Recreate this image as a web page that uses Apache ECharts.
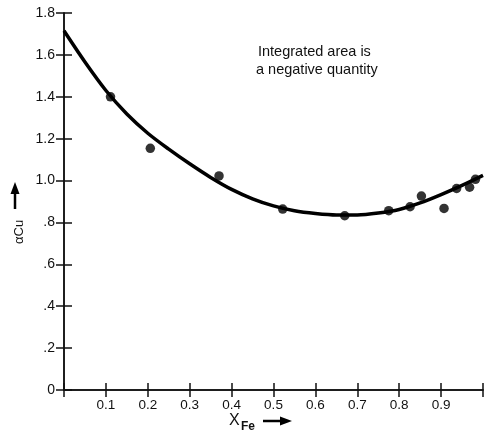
<!DOCTYPE html>
<html><head><meta charset="utf-8">
<script src="https://cdn.jsdelivr.net/npm/echarts@6/dist/echarts.min.js"></script>
<style>html,body{margin:0;padding:0;background:#fff}#c{width:486px;height:432px}</style>
</head><body><div id="c"></div>
<script>
// measured data points (X_Fe, alpha_Cu)
var pointX = [0.111, 0.206, 0.370, 0.522, 0.670, 0.775, 0.826, 0.853, 0.907, 0.937, 0.968, 0.982];
var pointY = [1.40, 1.154, 1.022, 0.864, 0.832, 0.856, 0.875, 0.926, 0.867, 0.962, 0.968, 1.006];
// fitted curve
var curveX = [0, 0.05, 0.1, 0.15, 0.2, 0.25, 0.3, 0.35, 0.4, 0.45, 0.5, 0.55, 0.6, 0.65, 0.7, 0.75, 0.8, 0.85, 0.9, 0.95, 1.0];
var curveY = [1.715, 1.566, 1.430, 1.318, 1.226, 1.150, 1.080, 1.015, 0.958, 0.913, 0.879, 0.856, 0.843, 0.836, 0.836, 0.845, 0.862, 0.893, 0.933, 0.977, 1.025];
var yTickLabels = {'0':'0','0.2':'.2','0.4':'.4','0.6':'.6','0.8':'.8','1':'1.0','1.2':'1.2','1.4':'1.4','1.6':'1.6','1.8':'1.8'};
var xTickLabels = ['0.1','0.2','0.3','0.4','0.5','0.6','0.7','0.8','0.9'];

var FONT = 'Liberation Sans';
var INK = '#111';
var chart = echarts.init(document.getElementById('c'), null, {renderer:'canvas'});
var axisLine = {show:true, lineStyle:{color:INK, width:1.5}};
chart.setOption({
  animation:false,
  grid:{left:64, top:13, width:428, height:377},
  xAxis:[{
    type:'value', min:0, max:1, interval:0.1, position:'bottom',
    axisLine:axisLine,
    axisTick:{show:true, inside:true, length:7, lineStyle:{color:INK, width:1.5}},
    splitLine:{show:false},
    axisLabel:{margin:8, fontFamily:FONT, fontSize:13.5, color:INK,
      formatter:function(v){var s=v.toFixed(1); return xTickLabels.indexOf(s)>=0?s:'';}}
  },{
    type:'value', min:0, max:1, interval:0.1, position:'top',
    axisLine:axisLine,
    axisTick:{show:true, inside:true, length:7, lineStyle:{color:INK, width:1.5}},
    splitLine:{show:false}, axisLabel:{show:false}
  }],
  yAxis:[{
    type:'value', min:0, max:1.8, interval:0.2, position:'left',
    axisLine:axisLine,
    axisTick:{show:true, inside:true, length:8, lineStyle:{color:INK, width:1.5}},
    splitLine:{show:false},
    axisLabel:{margin:9, fontFamily:FONT, fontSize:14, color:INK,
      formatter:function(v){var k=String(Math.round(v*10)/10); return yTickLabels[k]||'';}}
  },{
    type:'value', min:0, max:1.8, interval:0.2, position:'right',
    axisLine:axisLine,
    axisTick:{show:true, inside:true, length:8, lineStyle:{color:INK, width:1.5}},
    splitLine:{show:false}, axisLabel:{show:false}
  }],
  series:[{
    type:'line', smooth:0.3, symbol:'none',
    lineStyle:{color:'#000', width:3.5},
    data:curveX.map(function(x,i){return [x,curveY[i]];})
  },{
    type:'scatter', symbol:'circle', symbolSize:9.5,
    itemStyle:{color:'#000'},
    data:pointX.map(function(x,i){return [x,pointY[i]];})
  }],
  graphic:[
    {type:'text', left:258, top:44, style:{text:'Integrated area is', font:'14.5px '+FONT, fill:INK}},
    {type:'text', left:256, top:62, style:{text:'a negative quantity', font:'14.5px '+FONT, fill:INK}},
    // y axis name
    {type:'text', x:13, y:244, rotation:Math.PI/2,
     style:{text:'αCu', font:'13px '+FONT, fill:INK}},
    {type:'line', shape:{x1:15, y1:209, x2:15, y2:192}, style:{stroke:'#000', lineWidth:2.5}},
    {type:'polygon', shape:{points:[[10.5,194],[19.5,194],[15,182]]}, style:{fill:'#000'}},
    // x axis name
    {type:'text', left:229, top:413, style:{text:'X', font:'16px '+FONT, fill:INK}},
    {type:'text', left:241, top:421, style:{text:'Fe', font:'bold 12px '+FONT, fill:INK}},
    {type:'line', shape:{x1:263, y1:421, x2:282, y2:421}, style:{stroke:'#000', lineWidth:2.5}},
    {type:'polygon', shape:{points:[[280,416.5],[280,425.5],[292,421]]}, style:{fill:'#000'}}
  ]
});
</script></body></html>
